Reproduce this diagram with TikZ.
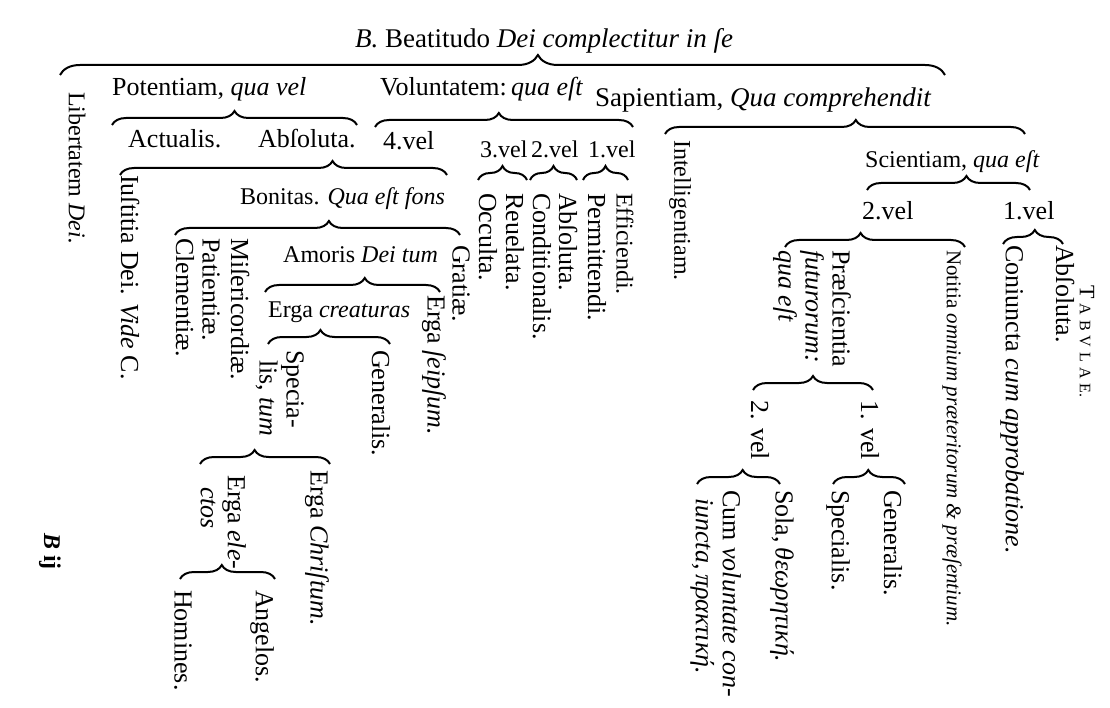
\documentclass[tikz,border=0pt]{standalone}
\usepackage{fontspec}
\setmainfont{Liberation Serif}
\usetikzlibrary{decorations.pathreplacing}
\tikzset{%
  lbl/.style = {inner sep=0pt, anchor=base west},
  vlbl/.style = {inner sep=0pt, rotate=-90, anchor=west},
  vpar/.style = {inner sep=0pt, rotate=-90, anchor=north west, align=left},
  brc/.style = {decorate, line width=2pt,
        decoration={brace, amplitude=14pt, aspect=#1}},
  brc/.default = 0.5
}

\begin{document}
\begin{tikzpicture}[x=1pt,y=-1pt,every node/.append style={font=\fontsize{26}{27}\selectfont}]
   \useasboundingbox (0,0) rectangle (1110,708);
   % title and first level
   \node[lbl,font=\fontsize{27}{28}\selectfont] (title) at (355,48) {\textit{B.} Beatitudo \textit{Dei complectitur in ſe}};
   \node[vlbl,font=\fontsize{24}{26}\selectfont] (libertatem) at (77,92) {Libertatem \textit{Dei.}};
   \node[lbl] (potentiam) at (112,96) {Potentiam, \textit{qua vel}};
   \node[lbl] (voluntatem) at (380,96) {Voluntatem:\,\textit{qua eſt}};
   \node[lbl,font=\fontsize{27}{28}\selectfont] (sapientiam) at (595,107) {Sapientiam, \textit{Qua comprehendit}};
   % potentiam
   \node[lbl] (actualis) at (128,148) {Actualis.};
   \node[lbl] (absoluta) at (258,148) {Abſoluta.};
   \node[vlbl] (iustitia) at (130,175) {Iuſtitia Dei. \textit{Vide} C.};
   \node[lbl,font=\fontsize{24}{26}\selectfont] (bonitas) at (240,205) {Bonitas. \textit{Qua eſt fons}};
   \node[vlbl] (clementiae) at (185,238) {Clementiæ.};
   \node[vlbl] (patientiae) at (211,238) {Patientiæ.};
   \node[vlbl] (misericordiae) at (240,238) {Miſericordiæ.};
   \node[vlbl] (gratiae) at (461,245) {Gratiæ.};
   \node[lbl,font=\fontsize{24}{26}\selectfont] (amoris) at (283,263) {Amoris \textit{Dei tum}};
   \node[vlbl] (seipsum) at (434,295) {Erga \textit{ſeipſum.}};
   \node[lbl,font=\fontsize{24}{26}\selectfont] (creaturas) at (268,318) {Erga \textit{creaturas}};
   \node[vpar] (specialis) at (304,350) {Specia-\\\hspace*{10pt}lis, \textit{tum}};
   \node[vlbl] (generalis) at (381,350) {Generalis.};
   \node[vpar] (electos) at (246,475) {Erga \textit{ele-}\\\hspace*{12pt}\textit{ctos}};
   \node[vlbl] (christum) at (317,470) {Erga \textit{Chriſtum.}};
   \node[vlbl] (homines) at (183,590) {Homines.};
   \node[vlbl] (angelos) at (262,590) {Angelos.};
   % voluntatem
   \node[lbl] (vel4) at (383,150) {4.vel};
   \node[lbl,font=\fontsize{24}{26}\selectfont] (vel3) at (480,158) {3.vel};
   \node[lbl,font=\fontsize{24}{26}\selectfont] (vel2) at (531,158) {2.vel};
   \node[lbl,font=\fontsize{24}{26}\selectfont] (vel1) at (588,158) {1.vel};
   \node[vlbl] (occulta) at (488,193) {Occulta.};
   \node[vlbl] (reuelata) at (515,193) {Reuelata.};
   \node[vlbl] (conditionalis) at (542,193) {Conditionalis.};
   \node[vlbl] (absolutaw) at (568,193) {Abſoluta.};
   \node[vlbl] (permittendi) at (597,193) {Permittendi.};
   \node[vlbl,font=\fontsize{24}{26}\selectfont] (efficiendi) at (625,193) {Efficiendi.};
   % sapientiam
   \node[vlbl,font=\fontsize{24}{26}\selectfont] (intelligentiam) at (680,140) {Intelligentiam.};
   \node[lbl,font=\fontsize{24}{26}\selectfont] (scientiam) at (865,168) {Scientiam, \textit{qua eſt}};
   \node[lbl] (sciv2) at (862,220) {2.vel};
   \node[lbl] (sciv1) at (1003,220) {1.vel};
   \node[vpar] (praescientia) at (851,250) {Præſcientia\\\textit{futurorum:}\\\textit{qua eſt}};
   \node[vlbl,font=\fontsize{21}{22}\selectfont] (notitia) at (952,250) {Notitia \textit{omnium præteritorum \& præſentium.}};
   \node[vlbl] (coniuncta) at (1012,245) {Coniuncta \textit{cum approbatione.}};
   \node[vlbl] (absolutas) at (1065,245) {Abſoluta.};
   \node[vlbl,font=\fontsize{22}{22}\selectfont] (tabulae) at (1087,285)
      {T\hspace{5pt}{\fontsize{16}{16}\selectfont A\hspace{5pt}B\hspace{5pt}V\hspace{5pt}L\hspace{5pt}A\hspace{5pt}E.}};
   \node[vlbl] (lvel2) at (760,400) {2. vel};
   \node[vlbl] (lvel1) at (870,400) {1. vel};
   \node[vlbl] (sola) at (782,490) {Sola,\,\textit{θεωρητική.}};
   \node[vpar] (cum) at (741,490) {Cum \textit{voluntate con-}\\\hspace*{8pt}\textit{iuncta,\,πρακτική.}};
   \node[vlbl] (specialisl) at (838,490) {Specialis.};
   \node[vlbl] (generalisl) at (893,490) {Generalis.};
   \node[vlbl,font=\fontsize{24}{24}\selectfont\bfseries] (sig) at (50,533) {\textit{B} ij};
   % brace ends
   \coordinate (top-l) at (60,75);   \coordinate (top-r) at (945,75);
   \coordinate (pot-l) at (112,125); \coordinate (pot-r) at (357,125);
   \coordinate (vol-l) at (375,127); \coordinate (vol-r) at (633,127);
   \coordinate (abs-l) at (120,175); \coordinate (abs-r) at (447,175);
   \coordinate (v3-l) at (478,180);  \coordinate (v3-r) at (527,180);
   \coordinate (v2-l) at (530,180);  \coordinate (v2-r) at (577,180);
   \coordinate (v1-l) at (583,180);  \coordinate (v1-r) at (628,180);
   \coordinate (sap-l) at (665,134); \coordinate (sap-r) at (1025,134);
   \coordinate (bon-l) at (175,235); \coordinate (bon-r) at (460,235);
   \coordinate (amo-l) at (265,292); \coordinate (amo-r) at (440,292);
   \coordinate (cre-l) at (268,344); \coordinate (cre-r) at (390,344);
   \coordinate (spe-l) at (200,464); \coordinate (spe-r) at (330,464);
   \coordinate (ele-l) at (180,579); \coordinate (ele-r) at (275,579);
   \coordinate (sci-l) at (867,190); \coordinate (sci-r) at (1030,190);
   \coordinate (s2-l) at (785,247);  \coordinate (s2-r) at (965,247);
   \coordinate (s1-l) at (1003,244); \coordinate (s1-r) at (1063,244);
   \coordinate (pra-l) at (753,390); \coordinate (pra-r) at (873,390);
   \coordinate (l2-l) at (697,484);  \coordinate (l2-r) at (780,484);
   \coordinate (l1-l) at (833,484);  \coordinate (l1-r) at (905,484);
   % braces
   \draw[brc=0.54,decoration={amplitude=20pt}] (top-l) -- (top-r);
   \draw[brc] (pot-l) -- (pot-r);
   \draw[brc=0.48] (vol-l) -- (vol-r);
   \draw[brc=0.65] (abs-l) -- (abs-r);
   \draw[brc] (v3-l) -- (v3-r);
   \draw[brc] (v2-l) -- (v2-r);
   \draw[brc] (v1-l) -- (v1-r);
   \draw[brc=0.53] (sap-l) -- (sap-r);
   \draw[brc=0.54] (bon-l) -- (bon-r);
   \draw[brc=0.57] (amo-l) -- (amo-r);
   \draw[brc=0.43] (cre-l) -- (cre-r);
   \draw[brc=0.42] (spe-l) -- (spe-r);
   \draw[brc=0.44] (ele-l) -- (ele-r);
   \draw[brc=0.61] (sci-l) -- (sci-r);
   \draw[brc=0.42] (s2-l) -- (s2-r);
   \draw[brc=0.53] (s1-l) -- (s1-r);
   \draw[brc] (pra-l) -- (pra-r);
   \draw[brc=0.55] (l2-l) -- (l2-r);
   \draw[brc=0.49] (l1-l) -- (l1-r);
\end{tikzpicture}
\end{document}
